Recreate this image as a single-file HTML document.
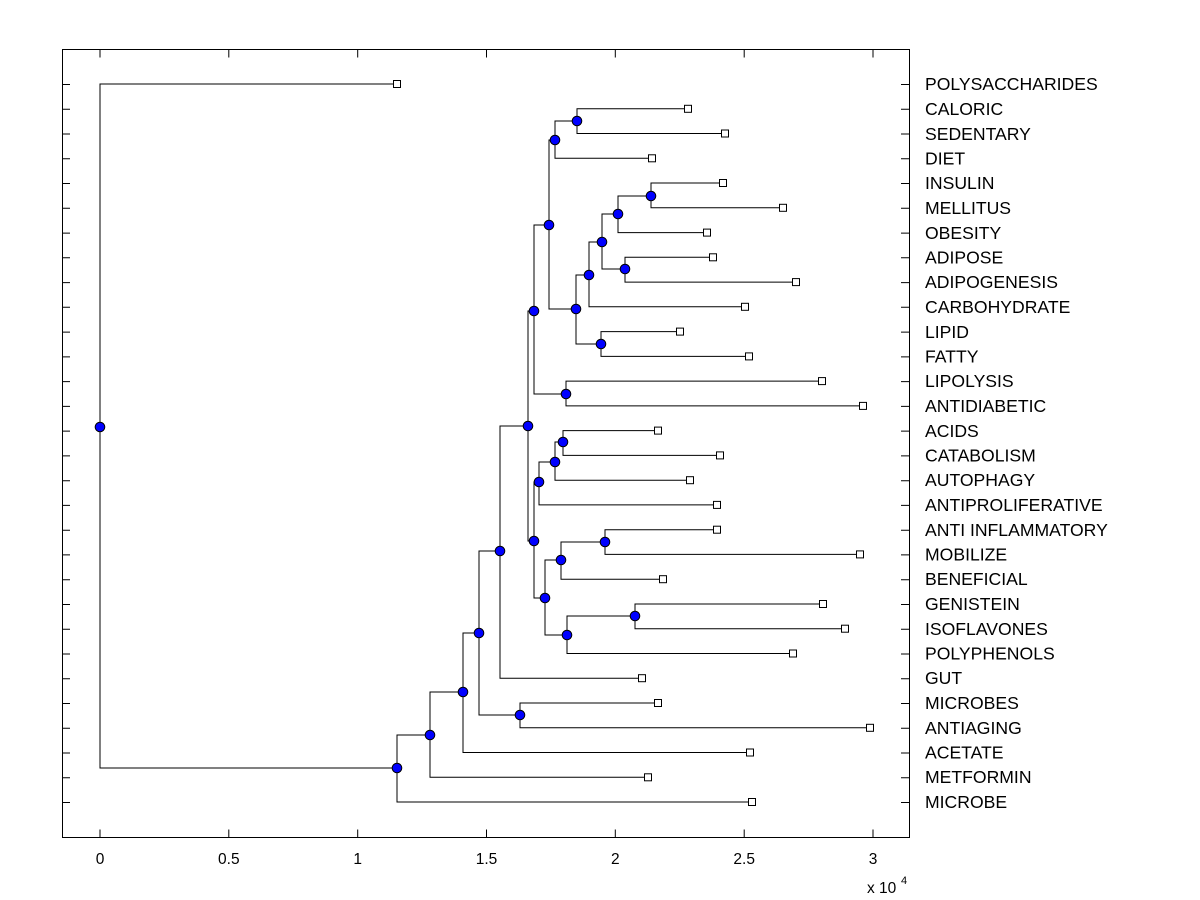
<!DOCTYPE html>
<html><head><meta charset="utf-8"><style>
body{margin:0;background:#fff;}
svg{display:block;font-family:"Liberation Sans",Arial,sans-serif;}
</style></head><body>
<svg width="1200" height="900" xmlns="http://www.w3.org/2000/svg">
<rect x="0" y="0" width="1200" height="900" fill="#fff"/>
<rect x="62.5" y="49.5" width="847" height="788" fill="none" stroke="#000" stroke-width="1"/>
<g stroke="#000" stroke-width="1">
<path d="M100 49.5v8M228.8 49.5v8M357.7 49.5v8M486.5 49.5v8M615.3 49.5v8M744.2 49.5v8M873 49.5v8M100 837.5v-8M228.8 837.5v-8M357.7 837.5v-8M486.5 837.5v-8M615.3 837.5v-8M744.2 837.5v-8M873 837.5v-8"/>
<path id="tk" d="M62 84.5h8M62 109.3h8M62 134h8M62 158.8h8M62 183.5h8M62 208.3h8M62 233.1h8M62 257.8h8M62 282.6h8M62 307.3h8M62 332.1h8M62 356.9h8M62 381.6h8M62 406.4h8M62 431.1h8M62 455.9h8M62 480.7h8M62 505.4h8M62 530.2h8M62 554.9h8M62 579.7h8M62 604.5h8M62 629.2h8M62 654h8M62 678.7h8M62 703.5h8M62 728.3h8M62 753h8M62 777.8h8M62 802.5h8"/>
<use href="#tk" transform="translate(839,0)"/>
</g>
<g fill="none" stroke="#000" stroke-width="1">
<path d="M397 84 H100 V768 H397"/>
<path d="M430 735 H397 V802 H752"/>
<path d="M463 692 H430 V777.3 H648"/>
<path d="M479 633 H463 V752.5 H750"/>
<path d="M500 551 H479 V715 H520"/>
<path d="M658 703 H520 V727.8 H870"/>
<path d="M528 426 H500 V678.2 H642"/>
<path d="M534 311 H528 V541 H534"/>
<path d="M549 225 H534 V394 H566"/>
<path d="M822 381.1 H566 V405.9 H863"/>
<path d="M555 140 H549 V309 H576"/>
<path d="M577 121 H555 V158.3 H652"/>
<path d="M688 108.8 H577 V133.5 H725"/>
<path d="M589 275 H576 V344 H601"/>
<path d="M680 331.6 H601 V356.4 H749"/>
<path d="M602 242 H589 V306.8 H745"/>
<path d="M618 214 H602 V269 H625"/>
<path d="M713 257.3 H625 V282.1 H796"/>
<path d="M651 196 H618 V232.6 H707"/>
<path d="M723 183 H651 V207.8 H783"/>
<path d="M539 482 H534 V598 H545"/>
<path d="M555 462 H539 V504.9 H717"/>
<path d="M563 442 H555 V480.2 H690"/>
<path d="M658 430.6 H563 V455.4 H720"/>
<path d="M561 560 H545 V635 H567"/>
<path d="M605 542 H561 V579.2 H663"/>
<path d="M717 529.7 H605 V554.4 H860"/>
<path d="M635 616 H567 V653.5 H793"/>
<path d="M823 604 H635 V628.7 H845"/>
</g>
<g fill="#fff" stroke="#000" stroke-width="1">
<rect x="393.5" y="80.5" width="7" height="7"/>
<rect x="684.5" y="105.3" width="7" height="7"/>
<rect x="721.5" y="130" width="7" height="7"/>
<rect x="648.5" y="154.8" width="7" height="7"/>
<rect x="719.5" y="179.5" width="7" height="7"/>
<rect x="779.5" y="204.3" width="7" height="7"/>
<rect x="703.5" y="229.1" width="7" height="7"/>
<rect x="709.5" y="253.8" width="7" height="7"/>
<rect x="792.5" y="278.6" width="7" height="7"/>
<rect x="741.5" y="303.3" width="7" height="7"/>
<rect x="676.5" y="328.1" width="7" height="7"/>
<rect x="745.5" y="352.9" width="7" height="7"/>
<rect x="818.5" y="377.6" width="7" height="7"/>
<rect x="859.5" y="402.4" width="7" height="7"/>
<rect x="654.5" y="427.1" width="7" height="7"/>
<rect x="716.5" y="451.9" width="7" height="7"/>
<rect x="686.5" y="476.7" width="7" height="7"/>
<rect x="713.5" y="501.4" width="7" height="7"/>
<rect x="713.5" y="526.2" width="7" height="7"/>
<rect x="856.5" y="550.9" width="7" height="7"/>
<rect x="659.5" y="575.7" width="7" height="7"/>
<rect x="819.5" y="600.5" width="7" height="7"/>
<rect x="841.5" y="625.2" width="7" height="7"/>
<rect x="789.5" y="650" width="7" height="7"/>
<rect x="638.5" y="674.7" width="7" height="7"/>
<rect x="654.5" y="699.5" width="7" height="7"/>
<rect x="866.5" y="724.3" width="7" height="7"/>
<rect x="746.5" y="749" width="7" height="7"/>
<rect x="644.5" y="773.8" width="7" height="7"/>
<rect x="748.5" y="798.5" width="7" height="7"/>
</g>
<g fill="#0000ff" stroke="#000" stroke-width="1">
<circle cx="100" cy="427" r="4.8"/><circle cx="397" cy="768" r="4.8"/><circle cx="430" cy="735" r="4.8"/>
<circle cx="463" cy="692" r="4.8"/><circle cx="479" cy="633" r="4.8"/><circle cx="520" cy="715" r="4.8"/>
<circle cx="500" cy="551" r="4.8"/><circle cx="528" cy="426" r="4.8"/><circle cx="534" cy="311" r="4.8"/>
<circle cx="566" cy="394" r="4.8"/><circle cx="549" cy="225" r="4.8"/><circle cx="555" cy="140" r="4.8"/>
<circle cx="577" cy="121" r="4.8"/><circle cx="576" cy="309" r="4.8"/><circle cx="601" cy="344" r="4.8"/>
<circle cx="589" cy="275" r="4.8"/><circle cx="602" cy="242" r="4.8"/><circle cx="625" cy="269" r="4.8"/>
<circle cx="618" cy="214" r="4.8"/><circle cx="651" cy="196" r="4.8"/><circle cx="534" cy="541" r="4.8"/>
<circle cx="539" cy="482" r="4.8"/><circle cx="555" cy="462" r="4.8"/><circle cx="563" cy="442" r="4.8"/>
<circle cx="545" cy="598" r="4.8"/><circle cx="561" cy="560" r="4.8"/><circle cx="605" cy="542" r="4.8"/>
<circle cx="567" cy="635" r="4.8"/><circle cx="635" cy="616" r="4.8"/>
</g>
<g font-size="17.6" fill="#000">
<text x="925" y="90">POLYSACCHARIDES</text><text x="925" y="115">CALORIC</text><text x="925" y="140">SEDENTARY</text>
<text x="925" y="164.5">DIET</text><text x="925" y="189">INSULIN</text><text x="925" y="214">MELLITUS</text>
<text x="925" y="239">OBESITY</text><text x="925" y="263.5">ADIPOSE</text><text x="925" y="288">ADIPOGENESIS</text>
<text x="925" y="313">CARBOHYDRATE</text><text x="925" y="338">LIPID</text><text x="925" y="362.5">FATTY</text>
<text x="925" y="387">LIPOLYSIS</text><text x="925" y="412">ANTIDIABETIC</text><text x="925" y="437">ACIDS</text>
<text x="925" y="461.5">CATABOLISM</text><text x="925" y="486">AUTOPHAGY</text><text x="925" y="511">ANTIPROLIFERATIVE</text>
<text x="925" y="536">ANTI INFLAMMATORY</text><text x="925" y="560.5">MOBILIZE</text><text x="925" y="585">BENEFICIAL</text>
<text x="925" y="610">GENISTEIN</text><text x="925" y="635">ISOFLAVONES</text><text x="925" y="659.5">POLYPHENOLS</text>
<text x="925" y="684">GUT</text><text x="925" y="709">MICROBES</text><text x="925" y="734">ANTIAGING</text>
<text x="925" y="758.5">ACETATE</text><text x="925" y="783">METFORMIN</text><text x="925" y="808">MICROBE</text>
</g>
<g font-size="15.5" fill="#000" text-anchor="middle">
<text x="100" y="864">0</text><text x="228.8" y="864">0.5</text><text x="357.7" y="864">1</text>
<text x="486.5" y="864">1.5</text><text x="615.3" y="864">2</text><text x="744.2" y="864">2.5</text><text x="873" y="864">3</text>
</g>
<text x="867" y="893" font-size="15.5">x 10</text>
<text x="901" y="884" font-size="11">4</text>
</svg>
</body></html>
